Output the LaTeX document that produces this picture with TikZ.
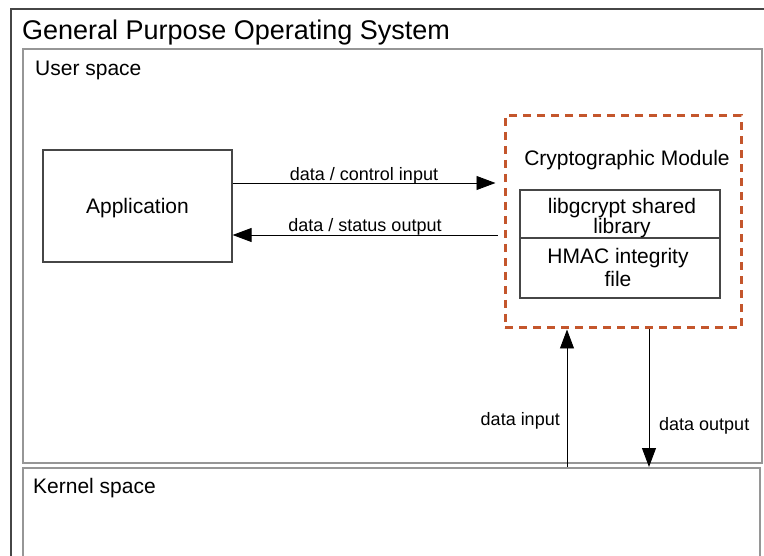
\documentclass[tikz,border=0pt]{standalone}
\usepackage{fontspec}
\setmainfont{Liberation Sans}
\usetikzlibrary{arrows.meta}
\definecolor{frameDark}{RGB}{70,70,70}
\definecolor{frameLight}{RGB}{150,150,150}
\definecolor{cmOrange}{RGB}{196,86,44}
\tikzset{
  lbl/.style={inner sep=0pt, font=\fontsize{18}{21}\selectfont},
  big/.style={inner sep=0pt, font=\fontsize{21}{24}\selectfont},
  box/.style={draw=frameDark, line width=1.2pt, inner sep=0pt},
  arr/.style={draw=black, line width=0.9pt, -{Triangle[length=19pt,width=14pt]}},
  cmbox/.style={draw=cmOrange, line width=3pt, dash pattern=on 8pt off 6pt, inner sep=0pt}
}
\begin{document}
\begin{tikzpicture}[x=1pt,y=-1pt]
\useasboundingbox (0,0) rectangle (764,556);
\clip (0,0) rectangle (764,556);
\fill[white] (0,0) rectangle (764,556);
% outer frame
\draw[frameDark, line width=1.3pt] (11,570) -- (11,9) -- (780,9);
\node[anchor=base west, inner sep=0pt, font=\fontsize{27}{30}\selectfont] (title) at (22,40) {General Purpose Operating System};
% user space
\draw[frameLight, line width=1.1pt] (23,49) rectangle (762,463);
\node[big, anchor=base west] (us) at (35,76) {User space};
% kernel space
\draw[frameLight, line width=1.1pt] (23,570) -- (23,468) -- (760,468) -- (760,570);
\node[big, anchor=base west] (ks) at (33,493) {Kernel space};
\coordinate (kin) at (567,467);
\coordinate (kout) at (649,467);
% application
\node[box, minimum width=189pt, minimum height=112pt] (app) at (137.5,206) {};
\node[big] (apptext) at ([yshift=-2pt]app.center) {Application};
% crypto module
\node[cmbox, minimum width=236pt, minimum height=212pt] (cm) at (623,222) {};
\node[big, anchor=base] (cmtext) at (627,166) {Cryptographic Module};
\node[box, minimum width=200pt, minimum height=48pt] (lib) at (620,214) {};
\node[box, minimum width=200pt, minimum height=60pt] (hmac) at (620,268) {};
\node[big, anchor=base] (libt1) at (622,214) {libgcrypt shared};
\node[big, anchor=base] (libt2) at (622,234) {library};
\node[big, anchor=base] (hmt1) at (618,264) {HMAC integrity};
\node[big, anchor=base] (hmt2) at (618,287) {file};
% arrows
\coordinate (a1s) at (app.east |- 0,183);
\coordinate (a1e) at ([xshift=-8pt]cm.west |- 0,183);
\draw[arr] (a1s) -- (a1e);
\node[lbl, anchor=base] (l1) at (364,181) {data / control input};
\coordinate (a2s) at ([xshift=-6pt]cm.west |- 0,235);
\coordinate (a2e) at (app.east |- 0,235);
\draw[arr] (a2s) -- (a2e);
\node[lbl, anchor=base] (l2) at (365,232) {data / status output};
\draw[arr] (kin) -- (kin |- cm.south);
\node[lbl, anchor=base east] (l3) at (560,425) {data input};
\draw[arr] (kout |- cm.south) -- (kout);
\node[lbl, anchor=base west] (l4) at (659,431) {data output};
\end{tikzpicture}
\end{document}
